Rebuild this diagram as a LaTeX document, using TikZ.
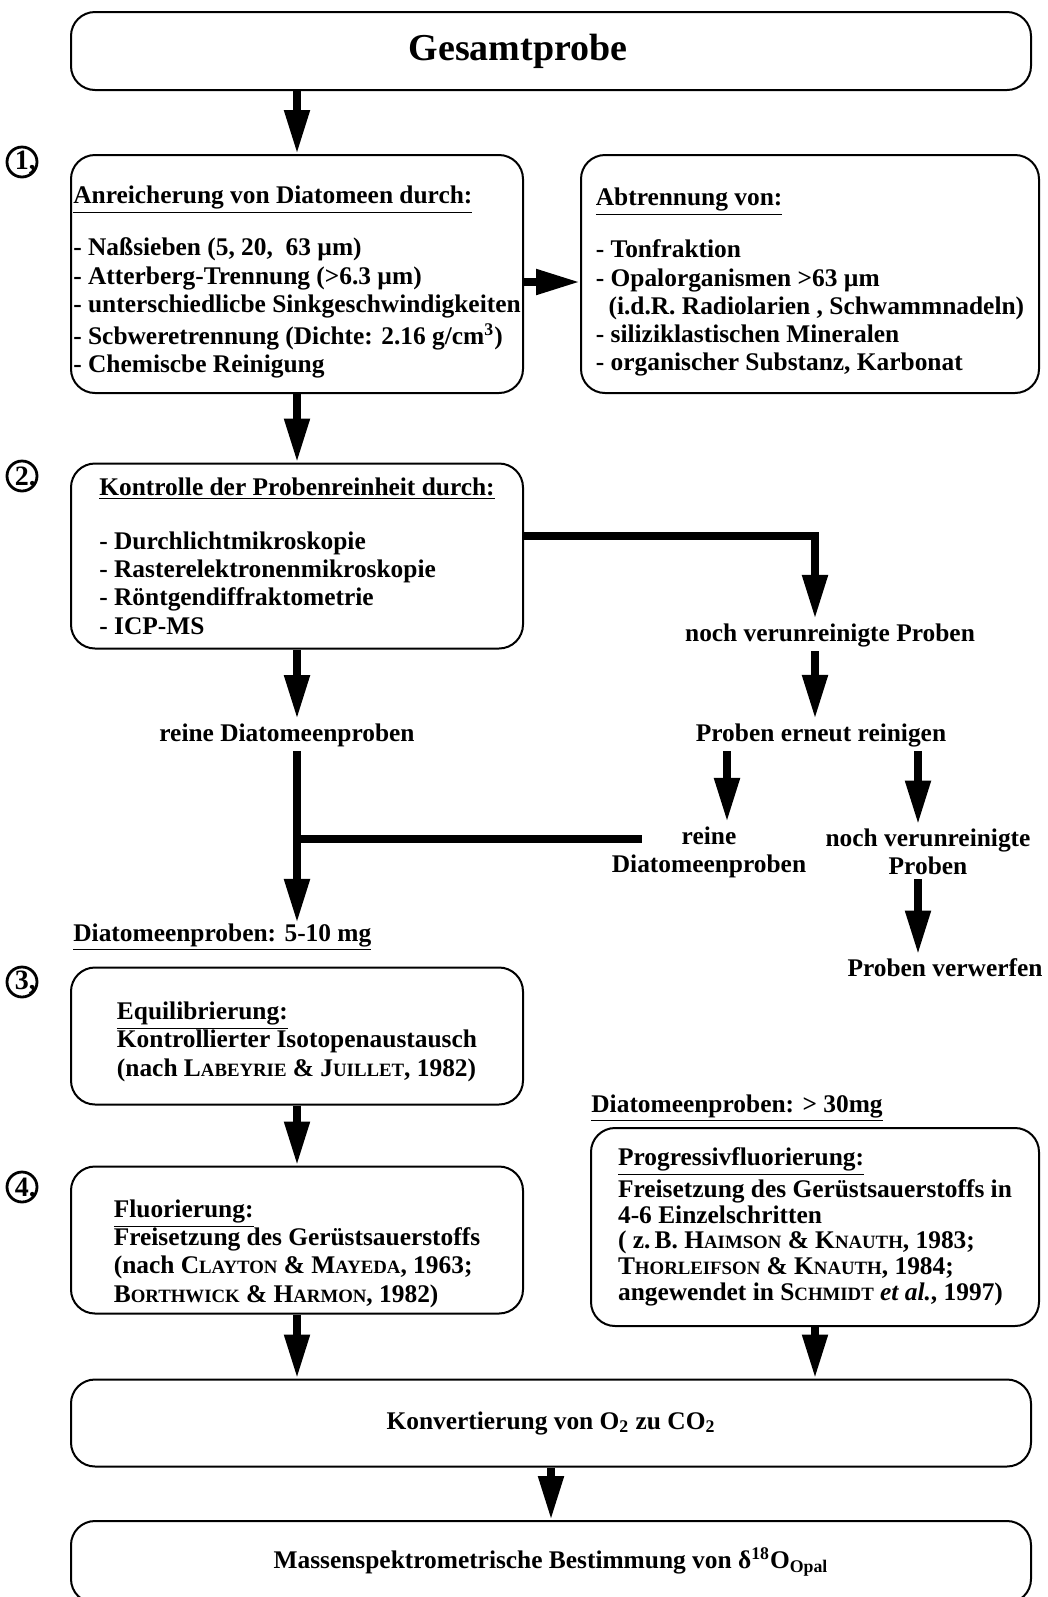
\documentclass[tikz,border=0pt]{standalone}
\usepackage{fontspec}
\setmainfont{Liberation Serif}
\usetikzlibrary{arrows.meta}

\newcommand{\autor}[2]{#1{\fontsize{9.4}{10}\selectfont #2}}

\begin{document}
\begin{tikzpicture}[x=0.5pt,y=-0.5pt]
    \useasboundingbox (0,0) rectangle (1048,1597);
    \begin{scope}[every node/.style={draw,line width=1pt,rounded corners=12pt,align=left,
        inner xsep=1pt,inner ysep=3pt,font=\bfseries\fontsize{12.7}{14.1}\selectfont}]
        \node[minimum width=480pt,minimum height=39pt,
            font=\bfseries\fontsize{19}{22}\selectfont] (gesamt) at (551,51) {Gesamtprobe\hspace*{33pt}};
        \node[minimum width=226pt,minimum height=119pt] (anr) at (297,274)
            {\rule{0pt}{17pt}\underline{Anreicherung von Diatomeen durch:}\\[12pt]
             - Naßsieben (5, 20,~~63 µm)\\
             - Atterberg-Trennung (>6.3 µm)\\
             - unterschiedlicbe Sinkgeschwindigkeiten\\[2pt]
             - Scbweretrennung (Dichte: 2.16 g/cm\textsuperscript{3})\\
             - Chemiscbe Reinigung};
        \node[minimum width=229pt,minimum height=119pt] (abtr) at (810,274)
            {\rule{0pt}{17pt}\underline{Abtrennung von:}\\[12pt]
             - Tonfraktion\\
             - Opalorganismen >63 µm\\
             \hspace*{0.5em}(i.d.R. Radiolarien , Schwammnadeln)\\
             - siliziklastischen Mineralen\\
             - organischer Substanz, Karbonat};
        \node[minimum width=226pt,minimum height=92.5pt] (kontr) at (297,556)
            {\underline{Kontrolle der Probenreinheit durch:}\\[13pt]
             - Durchlichtmikroskopie\\
             - Rasterelektronenmikroskopie\\
             - Röntgendiffraktometrie\\
             - ICP-MS};
        \node[minimum width=226pt,minimum height=68.5pt] (equi) at (297,1036)
            {\rule{0pt}{14.5pt}\underline{Equilibrierung:}\\
             Kontrollierter Isotopenaustausch\\
             (nach \autor{L}{ABEYRIE} \& \autor{J}{UILLET}, 1982)};
        \node[minimum width=226pt,minimum height=69pt] (fluor) at (297,1240)
            {\rule{0pt}{22.5pt}\underline{Fluorierung:}\\
             Freisetzung des Gerüstsauerstoffs\\
             (nach \autor{C}{LAYTON} \& \autor{M}{AYEDA}, 1963;\\
             \autor{B}{ORTHWICK} \& \autor{H}{ARMON}, 1982)};
        \node[minimum width=224pt,minimum height=99pt,
            font=\bfseries\fontsize{12.7}{12.9}\selectfont] (prog) at (815,1227)
            {\underline{Progressivfluorierung:}\\[1pt]
             Freisetzung des Gerüstsauerstoffs in\hspace*{9pt}\\
             4-6 Einzelschritten\\
             ( z.\,B. \autor{H}{AIMSON} \& \autor{K}{NAUTH}, 1983;\\
             \autor{T}{HORLEIFSON} \& \autor{K}{NAUTH}, 1984;\\
             angewendet in \autor{S}{CHMIDT} \textit{et al.}, 1997)};
        \node[minimum width=480pt,minimum height=43.5pt] (konv) at (551,1423)
            {Konvertierung von O\textsubscript{2} zu CO\textsubscript{2}};
        \node[minimum width=480pt,minimum height=41pt] (mass) at (551,1562)
            {Massenspektrometrische Bestimmung von δ\textsuperscript{18}O\textsubscript{Opal}};
    \end{scope}
    \begin{scope}[every node/.style={inner sep=2pt,align=center,
        font=\bfseries\fontsize{12.7}{14.1}\selectfont}]
        \node (noch) at (830,635) {noch verunreinigte Proben};
        \node (erneut) at (821,735) {Proben erneut reinigen};
        \node (reinneu) at (709,852) {reine\\Diatomeenproben};
        \node (nochneu) at (928,852) {noch verunreinigte\\Proben};
        \node (verwerf) at (945,968) {Proben verwerfen};
        \node (reindia) at (287,735) {reine Diatomeenproben};
        \node[anchor=west,inner sep=0pt] (dia510) at (73,937) {\underline{Diatomeenproben: 5-10 mg}};
        \node[anchor=west,inner sep=0pt] (dia30) at (591,1108) {\underline{Diatomeenproben: > 30mg}};
    \end{scope}
    \begin{scope}[every node/.style={circle,draw,line width=1.4pt,minimum size=15pt,
        inner sep=0pt,font=\bfseries\fontsize{14}{14}\selectfont}]
        \node (n1) at (22,162) {1\rlap{,}};
        \node (n2) at (22,476) {2\rlap{.}};
        \node (n3) at (22,982) {3\rlap{,}};
        \node (n4) at (22,1187) {4\rlap{.}};
    \end{scope}
    \coordinate (knick) at (815,536);
    \coordinate (treff) at (297,839);
    \coordinate (ende) at (642,839);
    \begin{scope}[>={Triangle[width=12pt,length=22pt]},line width=4pt]
        \draw[->] (gesamt.south -| anr.north) -- (anr.north);
        \draw[->] ([yshift=-4pt]anr.east) -- ([yshift=-4pt]abtr.west);
        \draw[->] (anr.south) -- (kontr.north);
        \draw[->] (kontr.east |- knick) -- (knick) -- (noch.north -| knick);
        \draw[->] (noch.south -| knick) -- (erneut.north -| knick);
        \draw[->] ([xshift=9pt]reinneu.north |- erneut.south) -- ([xshift=9pt]reinneu.north);
        \draw[->] ([xshift=-5pt]nochneu.north |- erneut.south) -- ([xshift=-5pt]nochneu.north);
        \draw[->] ([xshift=-5pt]nochneu.south) -- ([xshift=-5pt]nochneu.south |- verwerf.north);
        \draw[->] (kontr.south) -- (kontr.south |- reindia.north);
        \draw[->] (kontr.south |- reindia.south) -- (kontr.south |- dia510.north);
        \draw (treff) -- (ende);
        \draw[->] (equi.south) -- (fluor.north);
        \draw[->] (fluor.south) -- (fluor.south |- konv.north);
        \draw[->] (prog.south) -- (prog.south |- konv.north);
        \draw[->] (konv.south) -- (mass.north);
    \end{scope}
\end{tikzpicture}
\end{document}
